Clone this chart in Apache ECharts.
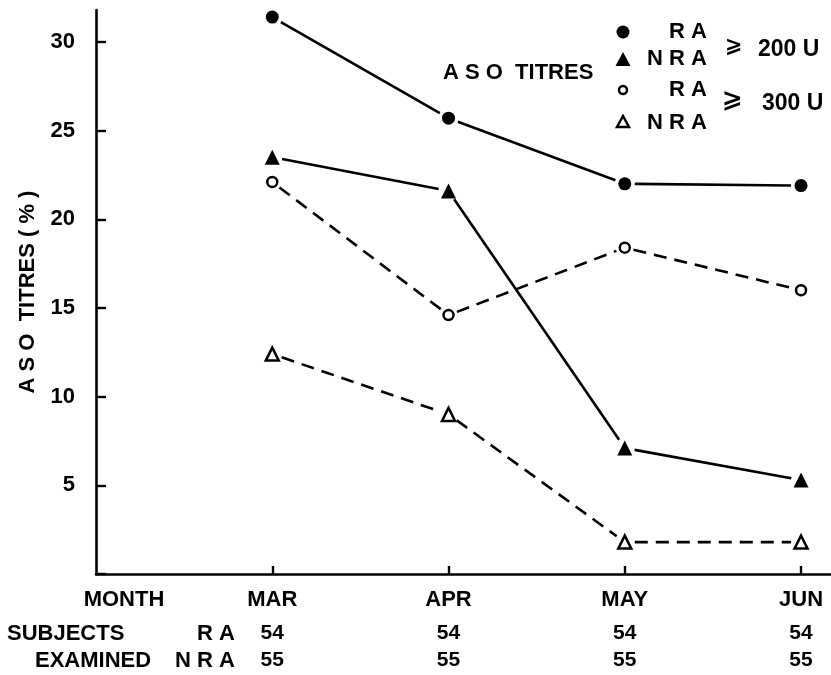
<!DOCTYPE html>
<html>
<head>
<meta charset="utf-8">
<script src="https://cdn.jsdelivr.net/npm/echarts@6/dist/echarts.min.js"></script>
<style>html,body{margin:0;padding:0;background:#fff}#c{width:831px;height:675px}</style>
</head>
<body>
<div id="c"></div>
<script>
// ---- data ----
var months = ['MAR', 'APR', 'MAY', 'JUN'];
var subjectsRA = [54, 54, 54, 54];
var subjectsNRA = [55, 55, 55, 55];
var ra200 = [31.4, 25.7, 22.0, 21.9];
var nra200 = [23.5, 21.6, 7.1, 5.3];
var ra300 = [22.1, 14.6, 18.4, 16.0];
var nra300 = [12.4, 9.0, 1.8, 1.8];
var yTicks = [5, 10, 15, 20, 25, 30];

var FONT = '"Liberation Sans", Arial, sans-serif';
var SYM = '"DejaVu Sans", sans-serif';
function pts(arr) { return arr.map(function (v, i) { return [i + 1, v]; }); }

var chart = echarts.init(document.getElementById('c'));

var seriesDefs = [
  { name: 'RA \u2265 200 U', data: ra200, dash: null, symbol: 'circle', size: 13, fill: '#000', gap: 10 },
  { name: 'NRA \u2265 200 U', data: nra200, dash: null, symbol: 'triangle', size: 15, fill: '#000', gap: 10 },
  { name: 'RA \u2265 300 U', data: ra300, dash: [13, 8], symbol: 'circle', size: 10, fill: '#fff', gap: 9 },
  { name: 'NRA \u2265 300 U', data: nra300, dash: [13, 8], symbol: 'triangle', size: 13, fill: '#fff', gap: 10 }
];

var series = [];
// connecting segments, stopping short of each marker (as in the original drawing)
seriesDefs.forEach(function (s) {
  var d = pts(s.data);
  series.push({
    name: s.name, type: 'custom', data: d, z: 1, silent: true,
    renderItem: function (params, api) {
      var i = params.dataIndex;
      if (i >= d.length - 1) return null;
      var p0 = api.coord(d[i]);
      var p1 = api.coord(d[i + 1]);
      var dx = p1[0] - p0[0], dy = p1[1] - p0[1];
      var len = Math.sqrt(dx * dx + dy * dy);
      var ux = dx / len, uy = dy / len;
      return {
        type: 'line',
        shape: {
          x1: p0[0] + ux * s.gap, y1: p0[1] + uy * s.gap,
          x2: p1[0] - ux * s.gap, y2: p1[1] - uy * s.gap
        },
        style: { stroke: '#000', lineWidth: 2.6, lineDash: s.dash, fill: null }
      };
    }
  });
});
// markers
seriesDefs.forEach(function (s) {
  series.push({
    name: s.name + ' mark', type: 'scatter', data: pts(s.data), symbol: s.symbol, symbolSize: s.size,
    itemStyle: { color: s.fill, opacity: 1, borderColor: '#000', borderWidth: s.fill === '#fff' ? 2.5 : 0 },
    z: 3, silent: true
  });
});

var txt = function (x, y, t, opts) {
  opts = opts || {};
  return {
    type: 'text', x: x, y: y,
    style: {
      text: t, fill: '#000', font: 'bold ' + (opts.size || 22) + 'px ' + (opts.family || FONT),
      textAlign: opts.align || 'left', textVerticalAlign: 'middle'
    }
  };
};

var graphics = [
  // left column of the bottom table
  txt(124, 600, 'MONTH', { align: 'center' }),
  txt(7, 634, 'SUBJECTS'),
  txt(235, 634, 'R A', { align: 'right' }),
  txt(35, 661, 'EXAMINED'),
  txt(235, 661, 'N R A', { align: 'right' }),
  // legend
  txt(443, 73, 'A S O  TITRES'),
  { type: 'circle', shape: { cx: 623, cy: 32, r: 6.5 }, style: { fill: '#000' } },
  txt(707, 32, 'R A', { align: 'right' }),
  { type: 'polygon', shape: { points: [[623, 52], [630.5, 66], [615.5, 66]] }, style: { fill: '#000' } },
  txt(707, 59, 'N R A', { align: 'right' }),
  { type: 'circle', shape: { cx: 623, cy: 90, r: 4 }, style: { fill: '#fff', stroke: '#000', lineWidth: 2.5 } },
  txt(707, 90, 'R A', { align: 'right' }),
  { type: 'polygon', shape: { points: [[623, 116], [629, 127], [617, 127]] }, style: { fill: '#fff', stroke: '#000', lineWidth: 2.5 } },
  txt(707, 123, 'N R A', { align: 'right' }),
  txt(725, 47, '\u2A7E', { size: 21, family: SYM }),
  txt(758, 50, '200 U', { size: 23 }),
  txt(722, 100, '\u2A7E', { size: 25, family: SYM }),
  txt(762, 104, '300 U', { size: 23 })
];

chart.setOption({
  animation: false,
  backgroundColor: '#fff',
  grid: { left: 96, right: 0, top: 10, bottom: 101, containLabel: false },
  xAxis: {
    type: 'value', min: 0, max: 4.17, interval: 1,
    splitLine: { show: false },
    axisLine: { show: true, lineStyle: { color: '#000', width: 2.6 } },
    axisTick: { show: true, inside: true, length: 8, lineStyle: { color: '#000', width: 2.4 } },
    axisLabel: {
      margin: 5, showMaxLabel: false, showMinLabel: false,
      formatter: function (v) {
        var i = Math.round(v) - 1;
        if (Math.abs(v - Math.round(v)) > 1e-6 || i < 0 || i >= months.length) return '';
        return '{m|' + months[i] + '}\n{n|' + subjectsRA[i] + '}\n{n|' + subjectsNRA[i] + '}';
      },
      rich: {
        m: { fontFamily: FONT, fontWeight: 'bold', fontSize: 22, color: '#000', lineHeight: 41 },
        n: { fontFamily: FONT, fontWeight: 'bold', fontSize: 21, color: '#000', lineHeight: 27 }
      }
    }
  },
  yAxis: {
    type: 'value', min: 0, max: 31.8, interval: 5,
    name: 'A S O  TITRES ( % )', nameLocation: 'middle', nameGap: 57, nameRotate: 90,
    nameTextStyle: { fontFamily: FONT, fontWeight: 'bold', fontSize: 22, color: '#000' },
    splitLine: { show: false },
    axisLine: { show: true, lineStyle: { color: '#000', width: 2.6 } },
    axisTick: { show: true, inside: true, length: 10, lineStyle: { color: '#000', width: 2.4 } },
    axisLabel: {
      margin: 21, showMaxLabel: false, color: '#000',
      fontFamily: FONT, fontWeight: 'bold', fontSize: 22,
      formatter: function (v) { return yTicks.indexOf(v) >= 0 ? String(v) : ''; }
    }
  },
  series: series,
  graphic: graphics
});
</script>
</body>
</html>
